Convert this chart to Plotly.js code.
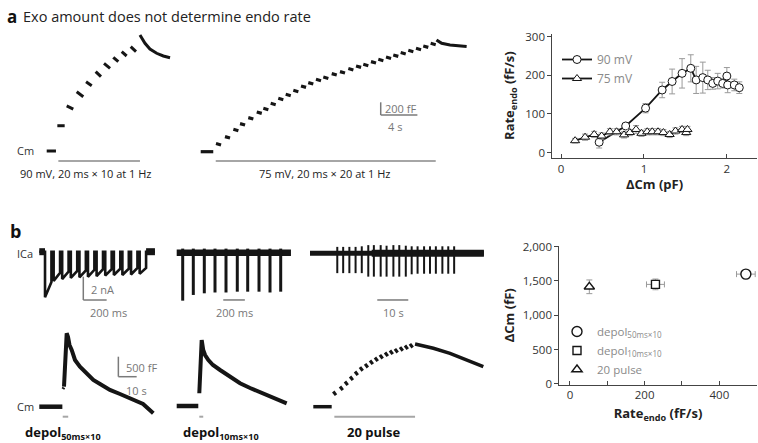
<!DOCTYPE html>
<html><head><meta charset="utf-8">
<script src="https://cdn.plot.ly/plotly-3.0.1.min.js"></script>
<style>html,body{margin:0;padding:0;background:#fff}#chart{width:758px;height:443px}</style>
</head><body><div id="chart"></div>
<script>
// ================= DATA =================
// Panel a, 90 mV Cm trace (time s, Cm fF): segments between pulses
const a90_t0 = [0, 1.16, 2.18, 3.27, 4.29, 5.34, 6.25, 7.26, 8.18, 9.16];
const a90_t1 = [1.01, 1.96, 2.90, 3.99, 4.91, 5.92, 6.91, 7.81, 8.72, 9.74];
const a90_c0 = [0, 398, 709, 934, 1091, 1249, 1381, 1476, 1564, 1643];
const a90_c1 = [0, 398, 661, 855, 1028, 1170, 1302, 1406, 1496, 1564];
const a90_decay_t = [10.17, 10.45, 10.72, 11.26, 11.99, 12.72, 13.45];
const a90_decay_c = [1827, 1760, 1696, 1606, 1539, 1496, 1469];
const a90_stim = [1.27, 10.17];
// Panel a, 75 mV Cm trace
const a75_base_t = [0, 1.37];
const a75_t = [1.67, 2.65, 3.56, 4.29, 5.19, 6.11, 6.83, 7.63, 8.46, 9.27, 10.1, 10.94, 11.73, 12.57, 13.37, 14.29, 15.19, 16.1, 16.94, 17.73, 18.57, 19.37, 20.21, 21.0, 21.81, 22.64, 23.48, 24.27, 25.08];
const a75_c = [117, 227, 342, 431, 526, 614, 672, 751, 830, 893, 956, 1024, 1077, 1129, 1165, 1219, 1250, 1298, 1339, 1365, 1408, 1444, 1480, 1512, 1550, 1586, 1617, 1654, 1696];
const a75_tail_t = [25.71, 26.28, 27.19, 28.06, 29.0];
const a75_tail_c = [1759, 1707, 1680, 1672, 1657];
const a75_stim = [1.64, 25.63];

// Panel a, right: endocytosis rate vs ΔCm
const dcm90 = [0.46, 0.78, 1.02, 1.22, 1.34, 1.46, 1.565, 1.63, 1.71, 1.77, 1.83, 1.89, 1.95, 2.0, 2.01, 2.09, 2.15];
const rate90 = [27, 69, 115, 162, 184, 205, 218, 188, 194, 188, 179, 185, 179, 198, 175, 175, 168];
const err90 = [15, 4, 12, 20, 32, 38, 35, 35, 40, 25, 15, 20, 12, 22, 20, 15, 15];
const dcm75 = [0.17, 0.29, 0.40, 0.49, 0.59, 0.67, 0.76, 0.83, 0.905, 0.97, 1.04, 1.10, 1.17, 1.235, 1.31, 1.38, 1.46, 1.51, 1.525];
const rate75 = [31, 40, 47, 43, 54, 54, 46, 52, 60, 50, 54, 54, 54, 52, 47, 56, 60, 52, 60];
const err75 = [6, 8, 8, 8, 8, 8, 8, 8, 10, 8, 8, 8, 8, 8, 8, 8, 8, 8, 8];

// Panel b, ICa traces (ms / s, nA)
const b1_on   = [49, 123, 196, 270, 344, 417, 491, 565, 639, 712, 786, 860];
const b1_off  = [104, 178, 251, 325, 399, 472, 546, 620, 694, 767, 841, 915];
const b1_peak = [-3.9, -2.5, -2.35, -2.25, -2.2, -2.15, -2.1, -2.05, -2.0, -2.0, -1.95, -1.9];
const b1_end  = [-2.6, -1.8, -1.7, -1.65, -1.6, -1.55, -1.5, -1.5, -1.45, -1.45, -1.4, -1.4];
const b1_len = 991;
const b2_spk_t = [55.6, 153.7, 255.6, 354.6, 456.5, 561, 657.4, 762, 864, 963];
const b2_spk_i = [-4.11, -3.62, -3.48, -3.41, -3.41, -3.34, -3.34, -3.34, -3.41, -3.34];
const b2_len = 1058;
const b3_spk_t  = [8.8, 10.7, 12.7, 14.7, 16.7, 18.8, 20.6, 22.8, 24.7, 26.9, 28.8, 30.9, 32.8, 34.7, 36.8, 38.7, 40.6, 42.7, 44.6, 46.5];
const b3_spk_dn = [-1.7, -1.7, -1.7, -1.7, -1.7, -2.0, -2.0, -2.0, -2.0, -2.0, -2.0, -2.0, -1.8, -1.75, -1.75, -1.75, -1.75, -1.75, -1.75, -1.75];
const b3_spk_up = [0.55, 0.55, 0.55, 0.55, 0.6, 0.7, 0.7, 0.7, 0.65, 0.7, 0.7, 0.65, 0.6, 0.6, 0.6, 0.6, 0.6, 0.6, 0.6, 0.6];
const b3_len = 56.1;
const b3_thick = [19.9, 56.1];

// Panel b, Cm traces (s, fF)
const c1_base_t = [0, 12.6];
const c1_pre_t = [12.9, 13.4], c1_pre_c = [440, 480];
const c1_t = [13.5, 14.3, 14.97, 15.7, 16.5, 17.7, 19.5, 22.2, 25.5, 29.5, 33.2, 38.6, 44.1, 51.4, 56.7, 62.3];
const c1_c = [500, 1650, 1835, 1743, 1543, 1418, 1168, 1000, 843, 668, 568, 418, 318, 168, 68, -165];
const c1_stim = [12.8, 15.8];
const c2_base_t = [0, 11.8];
const c2_t = [12.35, 13.66, 14.5, 15.5, 17.3, 19.8, 23.7, 29.1, 34.6, 40.1, 47.3, 53.7, 60.1];
const c2_c = [318, 1650, 1400, 1275, 1150, 1025, 900, 750, 568, 450, 318, 200, 68];
const c2_stim = [12.35, 14.5];
const c3_base_t = [0, 10.05];
const c3_dash_t = [10.9, 14.6, 17.3, 20.1, 22.8, 25.5, 28.3, 31.0, 33.7, 36.4, 39.2, 41.9, 44.6, 47.4, 50.1, 52.8];
const c3_dash_c = [335, 460, 585, 710, 835, 943, 1025, 1110, 1185, 1250, 1310, 1360, 1400, 1443, 1485, 1525];
const c3_t = [55.6, 65.6, 74.7, 83.8, 92.9];
const c3_c = [1568, 1460, 1335, 1168, 1000];
const c3_stim = [11.5, 55.6];

// Panel b, right: ΔCm vs endocytosis rate
const bNames = ['depol<sub>50ms×10</sub>', 'depol<sub>10ms×10</sub>', '20 pulse'];
const bRate = [471, 229, 52];
const bRateErr = [25, 24, 0];
const bDcm = [1600, 1450, 1415];
const bDcmErr = [60, 78, 100];

// ================= LAYOUT HELPERS =================
const W = 758, H = 443;
const fx = px => px / W, fy = py => 1 - py / H;
const INK = '#151515', GREY = '#a6a6a6', SBAR = '#7a7a7a', TXT = '#333';
const FONT = '"Open Sans", "Noto Sans", sans-serif';
const layout = {
  width: W, height: H, margin: {l: 0, r: 0, t: 0, b: 0},
  paper_bgcolor: '#fff', plot_bgcolor: 'rgba(0,0,0,0)',
  font: {family: FONT, size: 12, color: TXT},
  showlegend: true, shapes: [], annotations: []
};
function frame(id, L, R, T, B, ox, oy, sx, sy) {
  layout['xaxis' + id] = {domain: [fx(L), fx(R)], range: [(L - ox) / sx, (R - ox) / sx], visible: false, anchor: 'y' + id, fixedrange: true};
  layout['yaxis' + id] = {domain: [fy(B), fy(T)], range: [(oy - B) / sy, (oy - T) / sy], visible: false, anchor: 'x' + id, fixedrange: true};
}
frame(3, 30, 190, 25, 170, 46.7, 151, 9.17, 0.0635);    // a 90 mV
frame(4, 192, 490, 25, 170, 200.7, 151.7, 9.17, 0.0635); // a 75 mV
frame(5, 30, 165, 235, 310, 39.3, 251.7, 0.1167, 11.67); // ICa 1
frame(6, 170, 300, 235, 310, 176.7, 252.7, 0.108, 11.67); // ICa 2
frame(7, 305, 495, 235, 310, 310, 253.3, 3.1, 11.67);    // ICa 3
frame(8, 30, 165, 320, 425, 39.3, 406.7, 1.83, 0.04);    // Cm 1
frame(9, 170, 300, 320, 425, 176.7, 406, 1.83, 0.04);    // Cm 2
frame(10, 305, 495, 320, 425, 313.3, 406.7, 1.83, 0.04); // Cm 3

const axCommon = {showline: true, linecolor: '#444', linewidth: 1, showgrid: false, zeroline: false,
  tickcolor: '#444', ticklen: 4, tickwidth: 1, tickfont: {size: 11.5, color: TXT}, fixedrange: true};
layout.xaxis = Object.assign({}, axCommon, {domain: [fx(552.3), fx(756.7)], range: [-0.105, 2.36], anchor: 'y',
  ticks: 'inside', tickvals: [0, 1, 2], title: {text: '<b>ΔCm (pF)</b>', font: {size: 13, color: '#222'}, standoff: 5}});
layout.yaxis = Object.assign({}, axCommon, {domain: [fy(157.7), fy(33.5)], range: [-13, 308], anchor: 'x',
  ticks: 'outside', tickvals: [0, 100, 200, 300], title: {text: '<b>Rate<sub>endo</sub> (fF/s)</b>', font: {size: 13, color: '#222'}, standoff: 7}});
layout.xaxis2 = Object.assign({}, axCommon, {domain: [fx(559.3), fx(756.7)], range: [-28.4, 500], anchor: 'y2',
  ticks: 'inside', tickvals: [0, 200, 400],
  minor: {tickvals: [100, 300, 500], ticks: 'inside', ticklen: 4, tickcolor: '#444', tickwidth: 1, showgrid: false},
  title: {text: '<b>Rate<sub>endo</sub> (fF/s)</b>', font: {size: 13, color: '#222'}, standoff: 7}});
layout.yaxis2 = Object.assign({}, axCommon, {domain: [fy(384.5), fy(246)], range: [-10, 2010], anchor: 'x2',
  ticks: 'outside', tickvals: [0, 500, 1000, 1500, 2000], ticktext: ['0', '500', '1,000', '1,500', '2,000'],
  title: {text: '<b>ΔCm (fF)</b>', font: {size: 13, color: '#222'}, standoff: 5}});
layout.legend = {x: fx(557), y: fy(45), xanchor: 'left', yanchor: 'top', bgcolor: 'rgba(0,0,0,0)',
  font: {size: 12, color: '#8a8a8a'}, tracegroupgap: 0};
layout.legend2 = {x: fx(557), y: fy(317), xanchor: 'left', yanchor: 'top', bgcolor: 'rgba(0,0,0,0)',
  font: {size: 11.5, color: '#8a8a8a'}, tracegroupgap: 0};

// ================= TRACES =================
const traces = [];
function line(ax, x, y, w, color) {
  traces.push({type: 'scatter', mode: 'lines', x: x, y: y, xaxis: 'x' + ax, yaxis: 'y' + ax,
    line: {color: color || INK, width: w}, showlegend: false, hoverinfo: 'skip'});
}
function segs(t0, t1, c0, c1) {
  const x = [], y = [];
  for (let i = 0; i < t0.length; i++) { x.push(t0[i], t1[i], null); y.push(c0[i], c1[i], null); }
  return {x, y};
}
// panel a traces
let s = segs(a90_t0, a90_t1, a90_c0, a90_c1);
line(3, s.x, s.y, 3);
line(3, a90_decay_t, a90_decay_c, 3);
const DASH75 = 0.55, DROOP75 = 22;
s = segs(a75_t, a75_t.map(t => t + DASH75), a75_c.map(c => c + DROOP75 / 2), a75_c.map(c => c - DROOP75 / 2));
line(4, s.x, s.y, 3.2);
line(4, a75_base_t, [0, 0], 3.2);
line(4, a75_tail_t, a75_tail_c, 3.2);
// ICa 1
{
  const x = [0], y = [0];
  for (let i = 0; i < b1_on.length; i++) { x.push(b1_on[i], b1_on[i], b1_off[i], b1_off[i]); y.push(0, b1_peak[i], b1_end[i], 0); }
  x.push(b1_len); y.push(0);
  line(5, x, y, 2.6);
  line(5, [0, b1_on[0]], [0, 0], 7);
  line(5, [b1_off[b1_off.length - 1], b1_len], [0, 0], 7);
}
// ICa 2
line(6, [0, b2_len], [0, 0], 6.5);
{
  const x = [], y = [];
  b2_spk_t.forEach((t, i) => { x.push(t, t, null); y.push(0.35, b2_spk_i[i], null); });
  line(6, x, y, 3);
}
// ICa 3
line(7, [0, b3_len], [0, 0], 5);
line(7, b3_thick, [0, 0], 7);
{
  const x = [], y = [];
  b3_spk_t.forEach((t, i) => { x.push(t, t, null); y.push(b3_spk_up[i], b3_spk_dn[i], null); });
  line(7, x, y, 2);
}
// Cm b traces
line(8, c1_base_t, [0, 0], 4.5);
line(8, c1_pre_t, c1_pre_c, 3);
line(8, c1_t, c1_c, 4);
line(9, c2_base_t, [0, 0], 4.5);
line(9, c2_t, c2_c, 4);
line(10, c3_base_t, [0, 0], 3.5);
const DASH3 = 1.5, DROOP3 = 90;
s = segs(c3_dash_t, c3_dash_t.map(t => t + DASH3), c3_dash_c.map(c => c + DROOP3 / 2), c3_dash_c.map(c => c - DROOP3 / 2));
line(10, s.x, s.y, 3);
line(10, c3_t, c3_c, 3.5);

// scatter a-right
traces.push({type: 'scatter', mode: 'lines+markers', name: '90 mV', x: dcm90, y: rate90, xaxis: 'x', yaxis: 'y',
  line: {color: INK, width: 1.8}, marker: {symbol: 'circle', size: 8, color: '#fff', line: {color: INK, width: 1}},
  error_y: {type: 'data', array: err90, color: '#9a9a9a', thickness: 1, width: 3}});
traces.push({type: 'scatter', mode: 'lines+markers', name: '75 mV', x: dcm75, y: rate75, xaxis: 'x', yaxis: 'y',
  line: {color: INK, width: 1.8}, marker: {symbol: 'triangle-up', size: 8, color: '#fff', line: {color: INK, width: 1}},
  error_y: {type: 'data', array: err75, color: '#9a9a9a', thickness: 1, width: 3}});
// scatter b-right
const bSym = ['circle', 'square', 'triangle-up'], bSize = [10, 8, 9];
bNames.forEach((n, i) => {
  traces.push({type: 'scatter', mode: 'markers', name: n, x: [bRate[i]], y: [bDcm[i]], xaxis: 'x2', yaxis: 'y2', legend: 'legend2',
    marker: {symbol: bSym[i], size: bSize[i], color: '#fff', line: {color: INK, width: 1.4}},
    error_x: {type: 'data', array: [bRateErr[i]], color: '#9a9a9a', thickness: 1, width: 3, visible: bRateErr[i] > 0},
    error_y: {type: 'data', array: [bDcmErr[i]], color: '#9a9a9a', thickness: 1, width: 3}});
});

// ================= SHAPES (stimulus & scale bars) =================
function hbar(ax, t0, t1, py, color, w) {
  layout.shapes.push({type: 'line', xref: 'x' + ax, yref: 'paper', x0: t0, x1: t1, y0: fy(py), y1: fy(py), line: {color: color, width: w}});
}
hbar(3, a90_stim[0], a90_stim[1], 161, GREY, 2);
hbar(4, a75_stim[0], a75_stim[1], 161, GREY, 2);
hbar(8, c1_stim[0], c1_stim[1], 416.7, GREY, 2);
hbar(9, c2_stim[0], c2_stim[1], 416.7, GREY, 2);
hbar(10, c3_stim[0], c3_stim[1], 416.7, GREY, 2);
function scalebar(ax, x, y, dx, dy) {
  if (dy) layout.shapes.push({type: 'line', xref: 'x' + ax, yref: 'y' + ax, x0: x, x1: x, y0: y, y1: y + dy, line: {color: SBAR, width: 1.5}});
  layout.shapes.push({type: 'line', xref: 'x' + ax, yref: 'y' + ax, x0: x, x1: x + dx, y0: y, y1: y, line: {color: SBAR, width: 1.5}});
}
scalebar(4, 19.63, 578, 4, 200);      // 4 s, 200 fF
scalebar(5, 377, -4.14, 200, 2);      // 200 ms, 2 nA
scalebar(6, 431, -4.05, 200, 0);      // 200 ms
scalebar(7, 21.7, -4.0, 10, 0);       // 10 s
scalebar(8, 43.2, 750, 10, 500);      // 10 s, 500 fF

// ================= ANNOTATIONS =================
function txt(text, px, py, opt) {
  layout.annotations.push(Object.assign({text: text, x: fx(px), y: fy(py), xref: 'paper', yref: 'paper', showarrow: false,
    xanchor: 'left', yanchor: 'middle', font: {size: 11, color: TXT}}, opt || {}));
}
txt('<b>a</b>', 5, 17, {font: {size: 17, color: '#111'}});
txt('Exo amount does not determine endo rate', 21, 17, {font: {size: 14.5, color: '#222'}});
txt('Cm', 15, 150);
txt('90 mV, 20 ms × 10 at 1 Hz', 86, 174, {xanchor: 'center', font: {size: 11, color: '#222'}});
txt('75 mV, 20 ms × 20 at 1 Hz', 325, 174, {xanchor: 'center', font: {size: 11, color: '#222'}});
txt('200 fF', 383, 108, {font: {size: 11, color: '#777'}});
txt('4 s', 386, 126, {font: {size: 11, color: '#777'}});
txt('<b>b</b>', 8, 231, {font: {size: 18, color: '#111'}});
txt('ICa', 15, 253);
txt('2 nA', 89, 289, {font: {size: 11, color: '#777'}});
txt('200 ms', 108, 312, {xanchor: 'center', font: {size: 11, color: '#777'}});
txt('200 ms', 234, 312, {xanchor: 'center', font: {size: 11, color: '#777'}});
txt('10 s', 393, 312, {xanchor: 'center', font: {size: 11, color: '#777'}});
txt('Cm', 15, 406);
txt('500 fF', 124, 367, {font: {size: 11, color: '#777'}});
txt('10 s', 136, 390, {xanchor: 'center', font: {size: 11, color: '#777'}});
txt('<b>depol<sub>50ms×10</sub></b>', 63, 433, {xanchor: 'center', font: {size: 13, color: '#111'}});
txt('<b>depol<sub>10ms×10</sub></b>', 221, 433, {xanchor: 'center', font: {size: 13, color: '#111'}});
txt('<b>20 pulse</b>', 373, 432, {xanchor: 'center', font: {size: 13, color: '#111'}});

Plotly.newPlot('chart', traces, layout, {staticPlot: true, displayModeBar: false});
</script>
</body></html>
